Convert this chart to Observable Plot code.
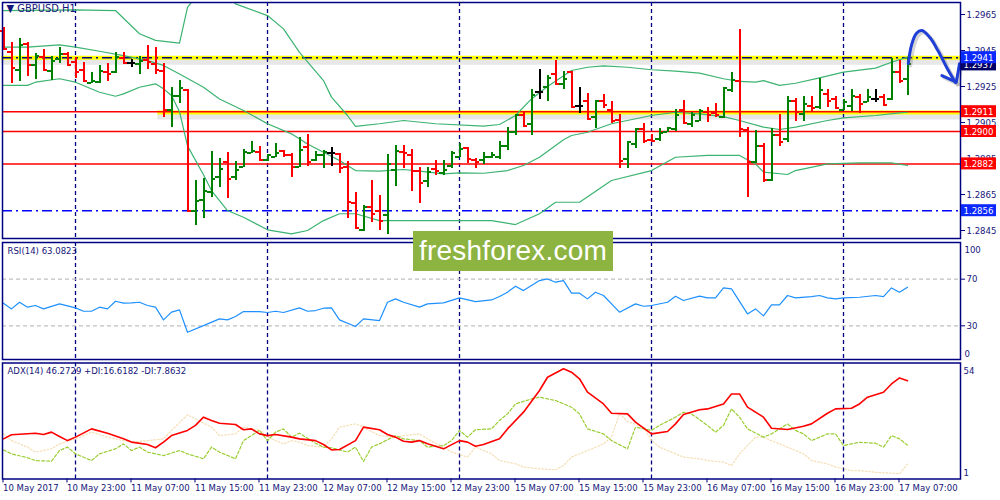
<!DOCTYPE html>
<html><head><meta charset="utf-8">
<script src="https://cdn.jsdelivr.net/npm/d3@7"></script>
<script src="https://cdn.jsdelivr.net/npm/@observablehq/plot@0.6"></script>
<style>
body{margin:0;background:#fff;}
#wrap{position:relative;width:1000px;height:500px;overflow:hidden;background:#fff;}
#wrap svg{position:absolute;left:0;}
#wm{position:absolute;left:413px;top:231px;width:200px;height:40px;background:#8db340;color:#fff;font:28px "Liberation Sans",Arial,sans-serif;display:flex;align-items:center;justify-content:center;letter-spacing:0.2px;}
</style></head><body><div id="wrap"></div>
<script>
// ---------- DATA ----------
const symbolTitle = "\u25BC GBPUSD,H1";
const rsiLabel = "RSI(14) 63.0823";
const adxLabel = "ADX(14) 46.2729 +DI:16.6182 -DI:7.8632";
const timeLabels = ["10 May 2017","10 May 23:00","11 May 07:00","11 May 15:00","11 May 23:00","12 May 07:00","12 May 15:00","12 May 23:00","15 May 07:00","15 May 15:00","15 May 23:00","16 May 07:00","16 May 15:00","16 May 23:00","17 May 07:00"];
const timeLabelIdx = [0,8,16,24,32,40,48,56,64,72,80,88,96,104,112];
const daySeparators = [9,33,57,81,105];
const mainTicks = [1.2965,1.2945,1.2925,1.2905,1.2885,1.2865,1.2845];
const rsiLevels = [70,30];
const rsiEnds = [100,0];
const adxEnds = [54,1];

const opens = [1.29561,1.29441,1.29343,1.29487,1.29372,1.29413,1.29335,1.29404,1.29431,1.29385,
1.29339,1.29272,1.29274,1.29330,1.29330,1.29409,1.29380,1.29376,1.29398,1.29376,
1.29335,1.29117,1.29200,1.29231,1.28561,1.28617,1.28663,1.28746,1.28830,1.28746,
1.28802,1.28880,1.28885,1.28839,1.28861,1.28891,1.28872,1.28805,1.28913,1.28839,
1.28867,1.28881,1.28876,1.28802,1.28604,1.28454,1.28580,1.28561,1.28537,1.28787,
1.28885,1.28872,1.28783,1.28724,1.28793,1.28768,1.28811,1.28861,1.28907,1.28843,
1.28843,1.28861,1.28857,1.28918,1.28996,1.29094,1.29043,1.29218,1.29246,1.29320,
1.29265,1.29330,1.29144,1.29168,1.29083,1.29172,1.29117,1.29065,1.28848,1.28931,
1.29015,1.28954,1.28959,1.29000,1.29015,1.29120,1.29043,1.29061,1.29107,1.29102,
1.29080,1.29228,1.29283,1.29009,1.28830,1.28922,1.28728,1.28978,1.28959,1.29172,
1.29098,1.29139,1.29135,1.29206,1.29181,1.29120,1.29139,1.29191,1.29163,1.29181,
1.29194,1.29178,1.29333,1.29293];
const highs = [1.29576,1.29493,1.29515,1.29493,1.29435,1.29454,1.29417,1.29465,1.29441,1.29413,
1.29385,1.29330,1.29367,1.29380,1.29441,1.29441,1.29398,1.29417,1.29478,1.29469,
1.29380,1.29243,1.29283,1.29231,1.28728,1.28737,1.28891,1.28852,1.28883,1.28833,
1.28898,1.28944,1.28918,1.28872,1.28931,1.28894,1.28880,1.28965,1.28981,1.28891,
1.28894,1.28909,1.28880,1.28833,1.28659,1.28589,1.28728,1.28644,1.28872,1.28922,
1.28922,1.28900,1.28798,1.28802,1.28839,1.28839,1.28889,1.28935,1.28913,1.28848,
1.28885,1.28885,1.28944,1.29024,1.29094,1.29111,1.29231,1.29344,1.29311,1.29394,
1.29333,1.29335,1.29243,1.29209,1.29172,1.29204,1.29168,1.29093,1.28944,1.29018,
1.29043,1.28981,1.29018,1.29024,1.29120,1.29172,1.29107,1.29120,1.29135,1.29154,
1.29246,1.29330,1.29567,1.29020,1.29006,1.28931,1.29015,1.29093,1.29194,1.29181,
1.29194,1.29194,1.29296,1.29231,1.29194,1.29178,1.29231,1.29204,1.29231,1.29231,
1.29204,1.29407,1.29394,1.29410];
const lows = [1.29454,1.29268,1.29280,1.29306,1.29291,1.29335,1.29281,1.29380,1.29367,1.29293,
1.29278,1.29268,1.29265,1.29280,1.29320,1.29376,1.29354,1.29317,1.29343,1.29317,
1.29080,1.29020,1.29157,1.28552,1.28478,1.28515,1.28635,1.28691,1.28626,1.28726,
1.28798,1.28876,1.28839,1.28835,1.28857,1.28857,1.28746,1.28802,1.28807,1.28835,
1.28796,1.28807,1.28768,1.28515,1.28459,1.28446,1.28496,1.28450,1.28426,1.28696,
1.28796,1.28668,1.28598,1.28687,1.28755,1.28755,1.28796,1.28854,1.28820,1.28796,
1.28817,1.28848,1.28843,1.28894,1.28978,1.29020,1.28978,1.29178,1.29167,1.29256,
1.29231,1.29131,1.29102,1.29065,1.29015,1.29130,1.29046,1.28796,1.28796,1.28907,
1.28931,1.28941,1.28946,1.28996,1.29002,1.29046,1.29020,1.29057,1.29052,1.29076,
1.29070,1.29218,1.28968,1.28635,1.28824,1.28718,1.28724,1.28918,1.28941,1.29057,
1.29057,1.29107,1.29120,1.29131,1.29130,1.29117,1.29111,1.29102,1.29163,1.29163,
1.29139,1.29172,1.29265,1.29200];
const closes = [1.29456,1.29354,1.29478,1.29367,1.29417,1.29343,1.29394,1.29428,1.29370,1.29330,
1.29281,1.29283,1.29335,1.29317,1.29413,1.29383,1.29380,1.29394,1.29385,1.29339,
1.29117,1.29200,1.29243,1.28561,1.28613,1.28672,1.28737,1.28793,1.28737,1.28787,
1.28885,1.28894,1.28843,1.28872,1.28881,1.28867,1.28802,1.28900,1.28833,1.28870,
1.28885,1.28881,1.28798,1.28607,1.28465,1.28580,1.28539,1.28505,1.28820,1.28894,
1.28880,1.28780,1.28713,1.28774,1.28783,1.28787,1.28880,1.28904,1.28848,1.28830,
1.28857,1.28867,1.28918,1.28996,1.29089,1.29033,1.29204,1.29218,1.29298,1.29265,
1.29293,1.29135,1.29144,1.29070,1.29168,1.29150,1.29057,1.28835,1.28941,1.29015,
1.28950,1.28946,1.28991,1.29018,1.29089,1.29046,1.29089,1.29113,1.29089,1.29094,
1.29243,1.29287,1.29015,1.28830,1.28922,1.28731,1.28978,1.28941,1.29172,1.29107,
1.29154,1.29131,1.29228,1.29172,1.29131,1.29163,1.29200,1.29154,1.29191,1.29181,
1.29150,1.29333,1.29283,1.29375];

const bbUpper = [[0,1.29672],[9,1.29676],[14,1.29672],[17,1.29543],[19,1.29506],[22,1.29491],[23,1.29690],[24,1.29746],[26,1.29780],[28,1.29755],[29,1.29709],[33,1.29644],[35,1.29570],[37,1.29440],[40,1.29283],[41,1.29191],[43,1.29089],[44,1.29028],[47,1.29043],[50,1.29061],[54,1.29043],[60,1.29030],[62,1.29039],[64,1.29089],[66,1.29181],[68,1.29250],[71,1.29339],[73,1.29357],[75,1.29365],[78,1.29357],[81,1.29343],[84,1.29335],[87,1.29324],[90,1.29293],[92,1.29278],[94,1.29274],[95,1.29283],[97,1.29256],[99,1.29268],[102,1.29298],[105,1.29330],[109,1.29352],[111,1.29385],[113,1.29413]];
const bbMiddle = [[0,1.29469],[3,1.29469],[7,1.29481],[9,1.29469],[12,1.29446],[15,1.29422],[18,1.29394],[20,1.29367],[22,1.29320],[25,1.29246],[27,1.29181],[30,1.29117],[33,1.29043],[36,1.28987],[38,1.28931],[40,1.28885],[42,1.28839],[44,1.28783],[47,1.28780],[50,1.28789],[52,1.28780],[55,1.28765],[57,1.28770],[60,1.28768],[63,1.28783],[65,1.28811],[67,1.28857],[70,1.28954],[71,1.28978],[73,1.28996],[76,1.29043],[81,1.29089],[84,1.29107],[87,1.29098],[90,1.29083],[92,1.29061],[95,1.29024],[97,1.29011],[99,1.29024],[103,1.29061],[105,1.29076],[109,1.29089],[112,1.29104],[113,1.29107]];
const bbLower = [[0,1.29256],[3,1.29256],[4,1.29274],[7,1.29293],[9,1.29274],[12,1.29218],[14,1.29196],[15,1.29209],[17,1.29246],[19,1.29265],[20,1.29237],[21,1.29200],[22,1.29110],[23,1.28920],[25,1.28760],[26,1.28672],[28,1.28561],[30,1.28524],[33,1.28454],[36,1.28431],[38,1.28450],[40,1.28505],[42,1.28543],[44,1.28543],[47,1.28505],[52,1.28505],[61,1.28505],[64,1.28483],[67,1.28543],[69,1.28607],[72,1.28607],[76,1.28728],[81,1.28783],[84,1.28857],[88,1.28867],[92,1.28867],[94,1.28820],[95,1.28774],[98,1.28761],[99,1.28783],[103,1.28820],[107,1.28826],[111,1.28826],[113,1.28811]];

const rsi = [[0,49.4],[1,44.5],[2,50.2],[3,46.0],[4,47.4],[5,44.5],[7,48.8],[9,45.4],[10,42.5],[11,42.5],[12,46.0],[13,44.5],[14,51.1],[15,49.4],[16,49.7],[17,50.2],[18,47.4],[19,46.0],[20,35.1],[21,41.7],[22,43.7],[23,24.5],[25,30.2],[27,36.0],[28,35.1],[29,38.0],[30,42.2],[32,42.2],[33,41.4],[34,42.5],[35,41.4],[37,45.4],[38,42.5],[39,43.1],[40,45.1],[41,45.4],[42,35.1],[44,29.4],[45,36.0],[47,34.5],[48,50.2],[49,53.1],[50,50.2],[52,46.0],[53,48.8],[55,49.7],[57,54.0],[59,50.8],[61,52.2],[62,55.1],[63,58.8],[64,64.0],[65,60.2],[67,68.8],[68,70.2],[69,67.4],[70,68.8],[71,58.0],[72,58.0],[73,53.1],[74,58.8],[75,56.0],[77,41.7],[79,48.8],[80,46.8],[81,47.4],[83,50.2],[84,55.4],[85,51.7],[87,55.4],[88,54.0],[89,54.0],[90,62.5],[91,61.7],[93,40.2],[94,44.5],[95,38.5],[96,48.0],[97,48.0],[98,56.0],[99,54.0],[101,55.1],[102,56.0],[103,54.0],[104,53.1],[105,54.0],[107,54.5],[109,56.0],[110,55.1],[111,62.5],[112,58.8],[113,63.1]];

const adx = [[0,19.5],[1,21.4],[4,22.1],[5,21.5],[6,22.6],[7,20.6],[8,18.7],[9,20.3],[11,24.1],[13,22.1],[15,19.5],[16,18.0],[18,16.9],[19,15.4],[20,18.0],[21,21.0],[23,23.4],[24,25.7],[25,29.5],[26,28.0],[27,26.7],[29,26.1],[30,23.7],[31,24.1],[32,21.8],[33,21.0],[34,21.5],[36,20.3],[37,19.5],[39,18.7],[40,16.9],[41,14.4],[42,14.6],[44,18.7],[45,24.9],[47,23.7],[48,21.5],[49,20.3],[50,18.4],[51,18.0],[52,18.7],[53,17.2],[55,14.9],[57,18.7],[58,18.0],[59,16.1],[60,16.9],[62,19.5],[63,24.1],[65,31.8],[67,41.8],[68,47.9],[70,51.8],[71,50.2],[72,47.2],[73,41.0],[75,35.6],[76,31.3],[78,31.0],[79,27.2],[81,21.8],[83,22.9],[84,26.4],[85,30.7],[87,32.9],[88,33.3],[90,35.6],[91,40.2],[92,40.2],[93,34.1],[95,29.5],[96,24.4],[98,23.8],[100,25.3],[101,26.4],[103,31.3],[104,33.3],[106,33.6],[107,35.6],[108,38.7],[110,41.0],[111,44.8],[112,47.6],[113,46.3]];
const plusDI = [[0,14.4],[1,12.6],[3,10.8],[4,9.5],[6,9.2],[7,14.1],[8,15.7],[9,12.6],[11,9.5],[12,12.6],[14,14.9],[15,17.2],[16,14.1],[17,15.7],[18,13.4],[20,11.8],[22,14.1],[23,12.6],[25,10.3],[26,15.7],[27,13.4],[29,10.3],[30,18.7],[31,21.0],[32,23.4],[33,18.7],[34,22.6],[35,24.1],[36,20.3],[37,22.1],[39,17.5],[40,15.7],[41,15.4],[43,13.4],[44,15.7],[45,9.1],[46,15.7],[47,17.2],[49,21.0],[50,19.5],[52,18.7],[53,15.7],[55,16.4],[56,18.7],[57,23.4],[58,20.3],[59,23.7],[61,24.1],[62,28.0],[63,31.0],[64,35.6],[66,37.9],[67,38.7],[68,37.9],[69,37.2],[71,34.1],[72,31.0],[73,24.1],[75,21.8],[76,18.7],[78,14.9],[79,24.9],[81,23.4],[82,25.7],[84,29.5],[85,31.8],[86,31.0],[88,25.7],[89,22.6],[90,25.7],[91,33.3],[92,29.5],[93,24.1],[95,20.3],[96,21.8],[98,26.4],[99,23.4],[100,21.8],[101,18.7],[103,21.8],[104,21.8],[105,16.4],[106,17.2],[107,17.9],[109,17.5],[110,15.7],[111,21.0],[112,19.5],[113,16.6]];
const minusDI = [[0,21.8],[1,18.7],[3,15.7],[4,13.4],[6,14.9],[7,17.2],[9,19.5],[11,22.6],[13,20.3],[15,18.7],[16,18.0],[18,18.7],[20,19.5],[21,23.4],[23,30.6],[24,28.7],[26,24.9],[27,21.0],[29,21.8],[30,24.9],[32,23.4],[33,20.3],[35,17.2],[36,18.7],[37,18.0],[38,16.4],[40,15.7],[41,19.5],[42,24.9],[44,26.4],[45,24.9],[47,21.0],[49,20.3],[50,21.0],[52,21.8],[53,19.5],[55,15.7],[56,13.4],[58,11.1],[59,15.7],[61,12.6],[62,9.5],[64,8.0],[65,6.5],[67,5.7],[69,5.2],[70,7.2],[71,11.1],[73,14.1],[75,17.2],[76,20.3],[77,31.3],[78,27.5],[80,24.9],[81,18.7],[82,15.7],[84,12.6],[85,11.1],[87,10.3],[88,9.5],[90,8.8],[91,7.2],[92,12.6],[94,20.3],[95,20.3],[96,18.7],[98,15.7],[100,12.6],[101,9.5],[103,8.0],[104,6.5],[106,4.9],[107,4.9],[109,4.1],[111,3.7],[112,3.4],[113,7.9]];

// horizontal levels drawn on the chart
const yellowZones = [{price:1.2941, from:-0.2},{price:1.29105, from:19.3}];
const redLevels = [1.2911,1.2900,1.2882];
const navyDashLevels = [1.2941];
const blueDashLevels = [1.2856];
const tagPrices = [1.2937,1.2941,1.2911,1.2900,1.2882,1.2856];
const tagKinds = ["bid","blue","red","red","red","blue"];
// hand-drawn forecast arrow (bar index, price)
const arrowPath = [[113.1,1.29378],[113.5,1.29480],[114.1,1.29545],[114.8,1.29561],[115.8,1.29522],[116.8,1.29450],[117.9,1.29356],[119.0,1.29272]];
const arrowHead = [[117.3,1.29311],[119.1,1.29274],[119.5,1.29376]];

// ---------- STYLE ----------
const FONT = '"DejaVu Sans Condensed","Liberation Sans",Arial,sans-serif';
const NAVY = "#000080", TXT = "#16167a";
const TAGCOL = {bid:"#000066", blue:"#0a28ff", red:"#ff0000"};
const xDom = {domain:[-0.125,119.625], axis:null};
const baseStyle = {fontFamily:FONT, fontSize:"9.5px", color:TXT, background:"transparent", overflow:"visible"};

const bars = opens.map((o,i)=>({i, open:o, high:highs[i], low:lows[i], close:closes[i],
  color: closes[i]>o ? "#008000" : closes[i]<o ? "#ff0000" : "#000000"}));
const P = d=>d[0], V = d=>d[1];
const xEnd = ()=>119.6;

// ---------- MAIN ----------
const main = Plot.plot({
  width:1000, height:240, marginLeft:2, marginRight:40, marginTop:2, marginBottom:2,
  x: xDom, y: {domain:[1.284056,1.297167], axis:null}, color:{type:"identity"},
  style: baseStyle,
  marks: [
    Plot.ruleY(yellowZones, {y:"price", x1:"from", x2:xEnd, stroke:"#b0b0b0", strokeOpacity:0.3, strokeWidth:8, dy:3}),
    Plot.ruleY(yellowZones, {y:"price", x1:"from", x2:xEnd, stroke:"#ffff00", strokeWidth:4}),
    Plot.ruleX(daySeparators, {stroke:NAVY, strokeWidth:1.3, strokeDasharray:"4,3"}),
    Plot.ruleY(redLevels, {stroke:"#ff0000", strokeWidth:1.5}),
    Plot.ruleY(navyDashLevels, {stroke:NAVY, strokeWidth:1.6, strokeDasharray:"10,4,2,4"}),
    Plot.ruleY(blueDashLevels, {stroke:"#0000ff", strokeWidth:1.6, strokeDasharray:"10,4,2,4"}),
    Plot.line(bbUpper, {x:P, y:V, stroke:"#3cb371", strokeWidth:1.2, clip:true}),
    Plot.line(bbMiddle, {x:P, y:V, stroke:"#3cb371", strokeWidth:1.2, clip:true}),
    Plot.line(bbLower, {x:P, y:V, stroke:"#3cb371", strokeWidth:1.2, clip:true}),
    Plot.ruleX(bars, {x:"i", y1:"low", y2:"high", stroke:"color", strokeWidth:2, shapeRendering:"crispEdges"}),
    Plot.ruleY(bars, {y:"open", x1:d=>d.i-0.45, x2:"i", stroke:"color", strokeWidth:2, shapeRendering:"crispEdges"}),
    Plot.ruleY(bars, {y:"close", x1:"i", x2:d=>d.i+0.45, stroke:"color", strokeWidth:2, shapeRendering:"crispEdges"}),
    Plot.line(arrowPath, {x:P, y:V, stroke:"#777", strokeOpacity:0.3, strokeWidth:4, curve:"catmull-rom", dx:2, dy:2}),
    Plot.line(arrowHead, {x:P, y:V, stroke:"#777", strokeOpacity:0.3, strokeWidth:4, dx:2, dy:2}),
    Plot.line(arrowPath, {x:P, y:V, stroke:"#1f3fd6", strokeWidth:3, curve:"catmull-rom", strokeLinecap:"round"}),
    Plot.line(arrowHead, {x:P, y:V, stroke:"#1f3fd6", strokeWidth:3, strokeLinecap:"round", strokeLinejoin:"round"}),
    Plot.frame({stroke:NAVY, strokeWidth:1.5}),
    Plot.axisY(mainTicks, {anchor:"right", tickSize:4, tickPadding:2, tickFormat:d3.format(".4f"), fontSize:9.5, stroke:NAVY}),
    Plot.text([symbolTitle], {frameAnchor:"top-left", textAnchor:"start", lineAnchor:"top", dx:4, dy:2, fill:TXT, fontSize:11})
  ]
});
main.style.top = "0px";

// price tags on the right scale
const ys = main.scale("y");
const tg = d3.select(main).append("g").attr("font-family", FONT).attr("font-size", 9.5).attr("text-anchor","start");
tagPrices.forEach((p,k)=>{
  const y = ys.apply(p);
  tg.append("rect").attr("x",961).attr("y",y-6).attr("width",35).attr("height",12).attr("fill",TAGCOL[tagKinds[k]]);
  tg.append("text").attr("x",963.5).attr("y",y+3.6).attr("fill","#fff").attr("text-anchor","start").text(d3.format(".4f")(p));
});

// ---------- RSI ----------
const rsiPlot = Plot.plot({
  width:1000, height:120, marginLeft:2, marginRight:40, marginTop:2, marginBottom:1,
  x: xDom, y: {domain:[0,100], range:[120.3,3.7], axis:null},
  style: baseStyle,
  marks: [
    Plot.ruleX(daySeparators, {stroke:NAVY, strokeWidth:1.3, strokeDasharray:"4,3"}),
    Plot.ruleY(rsiLevels, {stroke:"#c0c0c0", strokeWidth:1.2, strokeDasharray:"4,3"}),
    Plot.line(rsi, {x:P, y:V, stroke:"#1e90ff", strokeWidth:1.2}),
    Plot.frame({stroke:NAVY, strokeWidth:1.5}),
    Plot.axisY(rsiLevels, {anchor:"right", tickSize:4, tickPadding:2, fontSize:9.5, stroke:NAVY}),
    Plot.text(rsiEnds, {y:d=>d, text:d=>String(d), frameAnchor:"right", textAnchor:"start", dx:4, fill:TXT, fontSize:9.5,
      filter:d=>d===100, dy:5.5}),
    Plot.text(rsiEnds, {y:d=>d, text:d=>String(d), frameAnchor:"right", textAnchor:"start", dx:4, fill:TXT, fontSize:9.5,
      filter:d=>d===0, dy:-7}),
    Plot.text([rsiLabel], {frameAnchor:"top-left", textAnchor:"start", lineAnchor:"top", dx:5, dy:4.5, fill:TXT, fontSize:9.5})
  ]
});
rsiPlot.style.top = "240px";

// ---------- ADX ----------
const adxPlot = Plot.plot({
  width:1000, height:140, marginLeft:2, marginRight:40, marginTop:2.5, marginBottom:21.5,
  x: xDom, y: {domain:[1,54], range:[118.5,3.5], axis:null},
  style: baseStyle,
  marks: [
    Plot.ruleX(daySeparators, {stroke:NAVY, strokeWidth:1.3, strokeDasharray:"4,3"}),
    Plot.line(minusDI, {x:P, y:V, stroke:"#f5deb3", strokeWidth:1.2, strokeDasharray:"1.5,2"}),
    Plot.line(plusDI, {x:P, y:V, stroke:"#9acd32", strokeWidth:1.2, strokeDasharray:"3,2"}),
    Plot.line(adx, {x:P, y:V, stroke:"#ff0000", strokeWidth:1.6}),
    Plot.frame({stroke:NAVY, strokeWidth:1.5}),
    Plot.axisX(timeLabelIdx, {anchor:"bottom", tickSize:4, tickPadding:1, tickFormat:i=>timeLabels[timeLabelIdx.indexOf(i)], textAnchor:"start", dx:-0.5, fontSize:9.5, stroke:NAVY}),
    Plot.text(adxEnds, {y:d=>d, text:d=>String(d), frameAnchor:"right", textAnchor:"start", dx:3, fill:TXT, fontSize:9.5, filter:d=>d===54, dy:6.5}),
    Plot.text(adxEnds, {y:d=>d, text:d=>String(d), frameAnchor:"right", textAnchor:"start", dx:3, fill:TXT, fontSize:9.5, filter:d=>d===1, dy:-6.5}),
    Plot.text([adxLabel], {frameAnchor:"top-left", textAnchor:"start", lineAnchor:"top", dx:5, dy:4, fill:TXT, fontSize:9.5})
  ]
});
adxPlot.style.top = "360px";

const wrap = document.getElementById("wrap");
wrap.append(main, rsiPlot, adxPlot);
const wm = document.createElement("div");
wm.id = "wm"; wm.textContent = "freshforex.com";
wrap.append(wm);
</script></body></html>
